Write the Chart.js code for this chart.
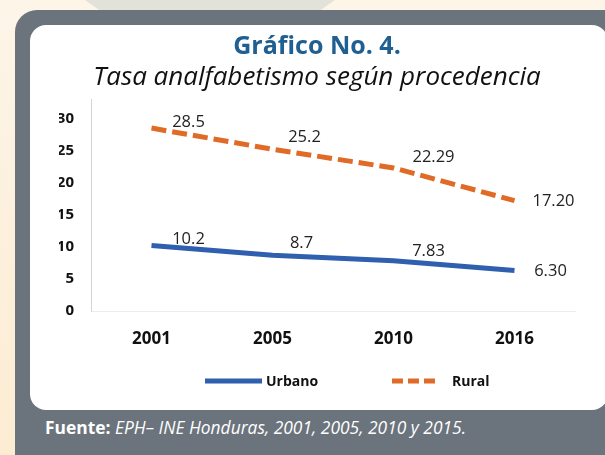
<!DOCTYPE html>
<html lang="es">
<head>
<meta charset="utf-8">
<title>Gráfico No. 4</title>
<script src="https://cdn.jsdelivr.net/npm/chart.js@4.4.1/dist/chart.umd.min.js"></script>
<style>
	html, body { margin: 0; padding: 0; }
	body {
		width: 605px; height: 455px; overflow: hidden; position: relative;
		background: linear-gradient(180deg, #fdf5e8 0%, #fcecd2 100%);
		font-family: "Open Sans", sans-serif;
	}
	#deco { position: absolute; left: 85px; top: 0; width: 250px; height: 14px;
		background: #e3e2d8; clip-path: polygon(0 0, 100% 0, 92% 100%, 8% 100%); }
	#panel { position: absolute; left: 15px; top: 10px; width: 640px; height: 490px;
		background: #6b747c; border-radius: 22px; }
	#card { position: absolute; left: 30px; top: 25px; width: 578px; height: 385px;
		background: #fff; border-radius: 16px; }
	#wrap { position: absolute; left: 30px; top: 25px; width: 572px; height: 385px; }
	#source { position: absolute; left: 45px; top: 415px; color: #fff; font-size: 17.4px;
		white-space: nowrap; }
	#source b { font-weight: 700; }
	#source i { font-style: italic; }
</style>
</head>
<body>
<div id="deco"></div>
<div id="panel"></div>
<div id="card"></div>
<div id="wrap"><canvas id="chart" width="572" height="385"></canvas></div>
<div id="source"><b>Fuente:</b> <i>EPH– INE Honduras, 2001, 2005, 2010 y 2015.</i></div>
<script>
// values
var years = ["2001", "2005", "2010", "2016"];
var urbano = [10.2, 8.7, 7.83, 6.30];
var rural = [28.5, 25.2, 22.29, 17.20];
var labelDigits = [1, 1, 2, 2];
var yTicks = [0, 5, 10, 15, 20, 25, 30];

var blue = "#2f5fae", orange = "#e06b26";

// value labels beside each point
var pointLabels = {
	id: "pointLabels",
	afterDatasetsDraw: function(chart, args, opts){
		var ctx = chart.ctx;
		ctx.save();
		ctx.font = "16.5px 'Open Sans'";
		ctx.fillStyle = "#222";
		ctx.textAlign = "center";
		ctx.textBaseline = "middle";
		chart.data.datasets.forEach(function(ds, di){
			var meta = chart.getDatasetMeta(di);
			var offs = opts.offsets[di];
			meta.data.forEach(function(pt, i){
				var txt = ds.data[i].toFixed(labelDigits[i]);
				ctx.fillText(txt, pt.x + offs[i][0], pt.y + offs[i][1]);
			});
		});
		ctx.restore();
	}
};

// legend drawn in the space under the x axis
var lineLegend = {
	id: "lineLegend",
	afterDraw: function(chart, args, opts){
		var ctx = chart.ctx;
		ctx.save();
		ctx.font = "bold 14px 'Open Sans'";
		ctx.textBaseline = "middle";
		ctx.fillStyle = "#111";
		chart.data.datasets.forEach(function(ds, di){
			var it = opts.items[di];
			ctx.beginPath();
			ctx.setLineDash(it.dash);
			ctx.lineWidth = 5;
			ctx.strokeStyle = ds.borderColor;
			ctx.moveTo(it.x, opts.y);
			ctx.lineTo(it.x + it.len, opts.y);
			ctx.stroke();
			ctx.setLineDash([]);
			ctx.fillText(ds.label, it.x + it.len + it.gap, opts.y + 1);
		});
		ctx.restore();
	}
};

new Chart(document.getElementById("chart"), {
	type: "line",
	data: {
		labels: years,
		datasets: [
			{label: "Urbano", data: urbano, borderColor: blue, backgroundColor: blue,
				borderWidth: 5, pointRadius: 0, tension: 0},
			{label: "Rural", data: rural, borderColor: orange, backgroundColor: orange,
				borderWidth: 5, borderDash: [15, 6], pointRadius: 0, tension: 0}
		]
	},
	options: {
		responsive: false,
		animation: false,
		layout: {padding: {left: 29, right: 27, top: 0, bottom: 58}},
		plugins: {
			legend: {display: false},
			tooltip: {enabled: false},
			title: {display: true, text: "Gráfico No. 4.", color: "#1f5f91",
				font: {family: "'Open Sans'", size: 25, weight: "bold"}, padding: {top: 7, bottom: 0}},
			subtitle: {display: true, text: "Tasa analfabetismo según procedencia", color: "#111",
				font: {family: "'Open Sans'", size: 26, style: "italic"}, padding: {top: 0, bottom: 6}},
			pointLabels: {offsets: [
				[[37, -6], [29, -12], [35, -9], [36, 1]],
				[[37, -6], [32, -12], [40, -11], [39, 1]]
			]},
			lineLegend: {y: 356, items: [
				{x: 175, len: 57, gap: 4, dash: []},
				{x: 362, len: 43, gap: 17, dash: [11, 5]}
			]}
		},
		scales: {
			x: {
				offset: true,
				grid: {display: false, drawTicks: false},
				border: {display: true, color: "#ececec", width: 1},
				ticks: {color: "#111", padding: 18, font: {family: "'Open Sans'", size: 17, weight: "bold"}},
				afterFit: function(s){ s.height = 41; }
			},
			y: {
				min: 0, max: 33,
				grid: {display: false, drawTicks: false},
				border: {display: true, color: "#d4d4d4", width: 1},
				ticks: {color: "#111", padding: 17, stepSize: 5,
					font: {family: "'Open Sans'", size: 15, weight: "bold"}},
				afterBuildTicks: function(s){
					s.ticks = yTicks.map(function(v){ return {value: v}; });
				},
				afterFit: function(s){ s.width = 32; }
			}
		}
	},
	plugins: [pointLabels, lineLegend]
});
</script>
</body>
</html>
